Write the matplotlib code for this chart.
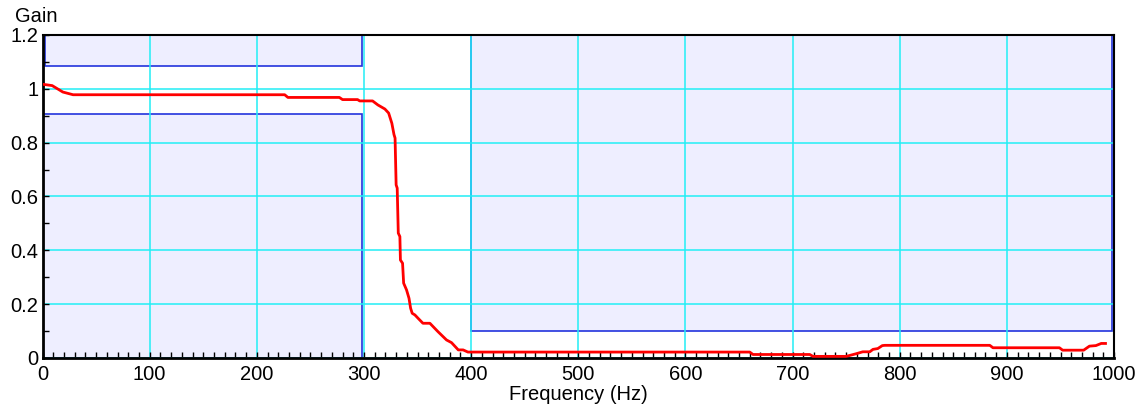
import matplotlib
matplotlib.use("Agg")
import matplotlib.pyplot as plt
from matplotlib.patches import Rectangle
from matplotlib.ticker import MultipleLocator, FormatStrFormatter

plt.rcParams['font.family'] = ['Liberation Sans', 'DejaVu Sans']

# Measured response (frequency in Hz, gain)
freq = [0, 9, 19, 28.5, 226, 229, 277, 280, 294, 296, 308, 313, 319.5, 323, 326, 328,
        329, 330, 331, 332, 333.5, 334, 336, 337, 339.7, 342, 343.5, 345, 347.5, 350.6,
        355, 361.5, 369, 377, 381.7, 388, 392.5, 397, 400, 660, 663, 716, 719, 750,
        759.5, 765.5, 772, 775, 779.5, 783.7, 786, 884, 887, 949, 952, 971.6, 977, 983,
        988, 992]
gain = [1.017, 1.012, 0.988, 0.978, 0.978, 0.968, 0.968, 0.96, 0.96, 0.955, 0.955, 0.94,
        0.925, 0.91, 0.872, 0.83, 0.817, 0.643, 0.631, 0.464, 0.451, 0.364, 0.352, 0.278,
        0.253, 0.222, 0.185, 0.166, 0.16, 0.147, 0.129, 0.129, 0.098, 0.067, 0.057, 0.03,
        0.03, 0.022, 0.022, 0.022, 0.013, 0.013, 0.006, 0.006, 0.016, 0.023, 0.023, 0.032,
        0.035, 0.046, 0.047, 0.047, 0.038, 0.038, 0.029, 0.029, 0.044, 0.046, 0.054, 0.054]

# Specification boxes: (x0, x1, y0, y1)
pass_upper = (2, 298, 1.085, 1.2)
pass_lower = (0.5, 298, 0.0, 0.907)
stop_band = (400, 998, 0.1, 1.2)

x_ticks = [0, 100, 200, 300, 400, 500, 600, 700, 800, 900, 1000]
y_ticks = [0, 0.2, 0.4, 0.6, 0.8, 1.0, 1.2]

fig = plt.figure(figsize=(11.43, 4.04), dpi=100)
ax = fig.add_axes([0.0372, 0.1139, 0.9375, 0.7995])

for (x0, x1, y0, y1) in (pass_upper, pass_lower, stop_band):
    ax.add_patch(Rectangle((x0, y0), x1 - x0, y1 - y0, facecolor='#eeeeff',
                           edgecolor='#2233dd', linewidth=1.2, zorder=0.3))

ax.set_axisbelow(True)
ax.grid(True, which='major', color='#22eef5', linewidth=1.1)

ax.plot(freq, gain, color='#ff0000', linewidth=2, zorder=3)

ax.set_xlim(0, 1000)
ax.set_ylim(0, 1.2)
ax.set_xticks(x_ticks)
ax.set_yticks(y_ticks)
ax.xaxis.set_minor_locator(MultipleLocator(10))
ax.yaxis.set_minor_locator(MultipleLocator(0.1))
ax.yaxis.set_major_formatter(FormatStrFormatter('%g'))
ax.tick_params(axis='both', which='both', direction='in', length=4, width=1,
               labelsize=14.5, top=False, right=False)
ax.tick_params(axis='x', which='both', pad=5)
ax.tick_params(axis='y', which='both', pad=3)

for side in ('left', 'bottom'):
    ax.spines[side].set_linewidth(2)
for side in ('top', 'right'):
    ax.spines[side].set_linewidth(1.5)

ax.set_xlabel('Frequency (Hz)', fontsize=14.5, labelpad=1)
fig.text(0.013, 0.935, 'Gain', fontsize=14.5, ha='left', va='bottom')

fig.savefig('out.png', dpi=100)
